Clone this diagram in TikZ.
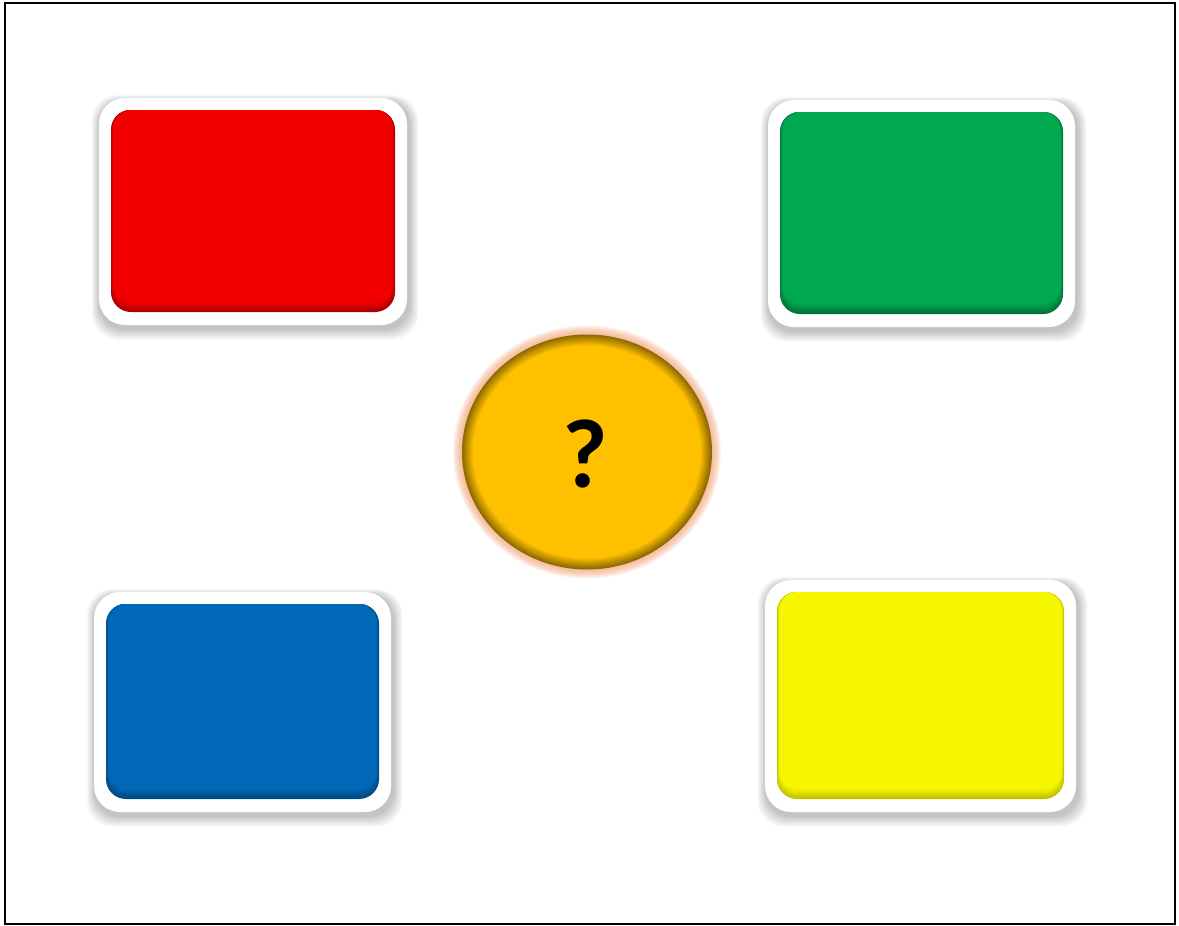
\documentclass[tikz,border=0pt]{standalone}
\usepackage{fontspec}
\setmainfont{Liberation Sans}
\newfontfamily\qfont{Carlito}
\usetikzlibrary{shapes.geometric}
\definecolor{cred}{HTML}{F20000}
\definecolor{cgreen}{HTML}{00A850}
\definecolor{cblue}{HTML}{0068B6}
\definecolor{cyellow}{HTML}{F6F600}
\definecolor{cgold}{HTML}{FFC000}
\definecolor{cglow}{HTML}{F6A57A}
\tikzset{
  outerbox/.style={fill=white, rounded corners=26pt, inner sep=0pt},
  qball/.style={ellipse, inner sep=0pt, font=\fontsize{98}{98}\qfont\bfseries}
}
\newcommand\mycard[7]{%
  \colorlet{tmpmain}{#6}\colorlet{tmpdark}{#7}%
  \foreach \k in {1,...,12}{%
    \fill[black, opacity=0.018, rounded corners=26pt] (#2-\k*0.7+1,#3-\k*0.5+3) rectangle (#4+\k*0.8+2,#5+\k*0.9+4);}
  \node[outerbox, minimum width={(#4-#2)*1pt}, minimum height={(#5-#3)*1pt}] (#1) at ({(#2+#4)/2},{(#3+#5)/2}) {};
  \fill[tmpdark, rounded corners=20pt] (#2+12,#3+12) rectangle (#4-12,#5-13);
  \foreach \i in {1,...,8}{%
    \pgfmathsetmacro\pc{\i*12.5}%
    \fill[tmpmain!\pc!tmpdark, rounded corners=19pt] (#2+12+\i*0.3,#3+12) rectangle (#4-12-\i*0.3,#5-13-\i*1.2);}
}
\begin{document}
\begin{tikzpicture}[x=1pt,y=-1pt]
\useasboundingbox (0,0) rectangle (1179,926);
\fill[white] (0,0) rectangle (1179,926);
\mycard{red}{99}{98}{407}{325}{cred}{cred!70!black}
\mycard{green}{768}{100}{1075}{327}{cgreen}{cgreen!68!black}
\mycard{blue}{94}{592}{391}{812}{cblue}{cblue!70!black}
\mycard{yellow}{765}{580}{1076}{812}{cyellow}{cyellow!78!black}
\foreach \k in {1,...,9}{%
  \fill[cglow, opacity=0.12] (587,452) ellipse ({125+\k} and {117.5+\k});}
\foreach \i in {0,...,10}{%
  \pgfmathsetmacro\pc{55+\i*4.5}%
  \fill[cgold!\pc!black] (587,452) ellipse ({125-\i*1.1} and {117.5-\i*1.1});}
\node[qball, minimum width=250pt, minimum height=235pt] (q) at (585,454) {?};
\draw[line width=2.5pt] (5,3) rectangle (1175,924);
\end{tikzpicture}
\end{document}
